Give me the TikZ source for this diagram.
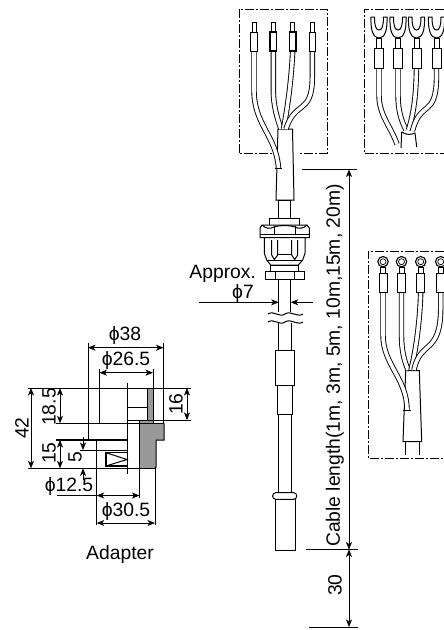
\documentclass[tikz,border=0pt]{standalone}
\usepackage{fontspec}
\usetikzlibrary{arrows.meta}
\setmainfont{Liberation Sans}
\tikzset{
  wire/.style={double=white,double distance=3.6pt,line width=0.9pt},
  frameline/.style={line width=0.9pt,dash pattern=on 9pt off 2pt on 2pt off 2pt},
  dimline/.style={line width=0.8pt,>={Stealth[length=7.5pt,width=6pt,inset=2pt]}},
  label/.style={inner sep=0pt,font=\fontsize{19.3}{19.3}\selectfont},
  vlabel/.style={label,rotate=90}
}
\begin{document}
\begin{tikzpicture}[x=1pt,y=-1pt,line width=1pt]
  \useasboundingbox (0,0) rectangle (444,630);
  % frames
  \draw[frameline] (239,153) -- (239,9) -- (327,9) -- (327,153) -- cycle;
  \draw[frameline] (444,9) -- (364,9) -- (364,153) -- (444,153);
  \draw[frameline] (444,251) -- (368,251) -- (368,458) -- (444,458);
  \fill[white] (272,150) rectangle (298,156);

  % top left tails
  \draw[fill=white] (278,129) -- (276,200) -- (294,200) -- (292.5,129) -- cycle;
  \draw[wire] (273.3,51) -- (273.3,90) .. controls (273.3,105) and (277,118) .. (281,129);
  \draw[wire] (292.7,51) .. controls (291,85) and (287,110) .. (283.5,129);
  \draw[wire] (312.3,51) -- (312.3,78) .. controls (312,115) and (295,100) .. (286,129);
  \draw[wire] (254,51) -- (254,90) .. controls (254,125) and (276,135) .. (278.5,168);
  \draw (274.8,168) -- (282.2,168);
  \foreach \x in {254,273.3,292.7,312.3}
    \draw[fill=white] (\x-2,22) rectangle (\x+2,32);
  \foreach \x in {254,312.3}
    \draw[fill=white] (\x-3.3,32) rectangle (\x+3.3,51);
  \foreach \x in {273.3,292.7}
    \draw[fill=white,line width=1.6pt] (\x-3.3,32) rectangle (\x+3.3,51);

  % top right tails
  \draw (401.7,132) -- (401,148);
  \draw (415,133) -- (416.7,147);
  \draw (401.7,132) .. controls (406,135) and (411,135) .. (415,133);
  \draw[wire] (398,68) -- (398,95) .. controls (398,110) and (401,120) .. (406,130);
  \draw[wire] (416.5,68) .. controls (416,95) and (414,112) .. (408.5,130);
  \draw[wire] (436.5,68) -- (436.5,78) .. controls (436,118) and (420,100) .. (412.5,131);
  \draw[wire] (379,68) -- (379,95) .. controls (379,115) and (390,125) .. (397,144);
  \foreach \x in {379,398,416.5,436.5} {
    \draw[fill=white] (\x-2.5,38) rectangle (\x+2.5,48);
    \draw[fill=white] (\x-4.5,48) rectangle (\x+4.5,68);
    \draw[fill=white] (\x-8,17) .. controls (\x-8.5,30) and (\x-6,38) .. (\x,38)
      .. controls (\x+6,38) and (\x+8.5,30) .. (\x+8,17)
      -- (\x+4.5,17) .. controls (\x+4.5,26) and (\x+3,30) .. (\x,30)
      .. controls (\x-3,30) and (\x-4.5,26) .. (\x-4.5,17) -- cycle;
  }

  % lower right tails
  \draw (405.7,441.7) -- (405.7,455);
  \draw (419.3,441.7) -- (419.3,455);
  \draw[fill=white] (405.7,370.7) -- (403,441.7) -- (421.7,441.7) -- (419.3,370.7) -- cycle;
  \draw[wire] (401.5,292) -- (401.5,335) .. controls (401.5,350) and (404,360) .. (408,370);
  \draw[wire] (420.7,292) .. controls (420,320) and (416,350) .. (411,370);
  \draw[wire] (440.7,292) -- (440.7,310) .. controls (440,355) and (420,340) .. (414,370);
  \draw[wire] (383,292) -- (383,335) .. controls (383,365) and (407,378) .. (407,410);
  \draw (403.2,410) -- (410.8,410);
  \foreach \x in {383,401.5,420.7,440.7} {
    \draw[fill=white] (\x-2.5,267) rectangle (\x+2.5,273);
    \draw[fill=white] (\x-4,273) rectangle (\x+4,292);
    \draw[fill=white,line width=1.1pt] (\x,261.7) circle (5.2);
    \draw[line width=0.7pt] (\x,261.7) circle (3);
  }

  % gland
  \draw[fill=white] (278.3,200) rectangle (290.7,218.3);
  \draw[fill=white] (269.3,218.3) rectangle (299.3,225);
  \draw[fill=white] (262,225) -- (307,225) -- (309.3,228) -- (309.3,237.7) -- (260,237.7) -- (260,228) -- cycle;
  \draw (260,234.3) -- (309.3,234.3);
  \draw (274,226) -- (274,234.3) (295,226) -- (295,234.3);
  \draw (262,225) .. controls (266,229) and (270,229) .. (274,227)
    .. controls (280,225) and (289,225) .. (295,227)
    .. controls (299,229) and (303,229) .. (307,225);
  \draw[fill=white] (264.3,237.7) -- (264.3,253.3) -- (266.7,260) -- (270.7,265) -- (298.3,265) -- (302.7,260) -- (305,253.3) -- (305,237.7) -- cycle;
  \draw (266.7,260) -- (302.7,260);
  \draw (271.7,240) -- (271.7,255) -- (274.3,259.5) -- (277.7,255) -- (277.7,240);
  \draw (291.7,240) -- (291.7,255) -- (294.7,259.5) -- (297.7,255) -- (297.7,240);
  \draw (277.7,254.3) -- (291.7,254.3);
  \draw[fill=white] (270.7,265) rectangle (298.3,271.7);
  \draw[fill=white] (265.7,271.7) rectangle (304.3,279);
  \draw (275,271.7) -- (275,279) (294.3,271.7) -- (294.3,279);

  % cable
  \draw (278.7,279) -- (278.7,312) (290.7,279) -- (290.7,312);
  \draw (268,314) .. controls (274,310) and (279,318) .. (285,314) .. controls (291,310) and (297,318) .. (303,314);
  \draw (268,322) .. controls (274,318) and (279,326) .. (285,322) .. controls (291,318) and (297,326) .. (303,322);
  \draw (278.7,323) -- (278.7,351) (291,323) -- (291,351);
  \draw (275.7,350.7) rectangle (294.3,385);
  \draw (277,385) rectangle (292.7,414);
  \draw (278.5,414) -- (278.5,493) (291.7,414) -- (291.7,493);
  \draw[fill=white,rounded corners=3pt] (272.7,492.7) rectangle (296.7,499.3);
  \draw (275.3,499.3) -- (275.3,550) -- (295,550) -- (295,499.3);

  % adapter
  \fill[gray!80] (147,388) -- (153,388) -- (153,423) -- (164,423) -- (164,440) -- (156,440) -- (156,467)
    -- (155,468.5) -- (139.5,468.5) -- (139.5,420) -- (147,420) -- cycle;
  \draw (28,388) -- (191,388);
  \draw (127,383) -- (127,474);
  \draw (147,388) -- (147,420);
  \draw (127,407) -- (147,407);
  \draw (127,420) -- (191,420);
  \draw (56,423.3) -- (164,423.3);
  \draw (88,343) -- (88,423.3) (163.5,343) -- (163.5,423.3);
  \draw (99.5,369) -- (99.5,423.3) (153,369) -- (153,423.3);
  \draw (88,423.3) -- (88,439) -- (127,439);
  \draw (164,423.3) -- (164,440) -- (156,440) -- (156,467) -- (155,468.3);
  \draw[line width=1.3pt] (56,440) -- (127,440);
  \draw (80,450) -- (127,450);
  \draw (96.7,439) -- (96.7,525);
  \draw (155,468.3) -- (155,525);
  \draw (139.5,420) -- (139.5,498);
  \draw (28,468.3) -- (155,468.3);
  \draw[line width=1.2pt] (127,452.7) -- (106,452.7) -- (106,466) -- (127,466);
  \draw (106,452.7) -- (127,459.5) -- (106,466);

  % dimensions
  \draw[dimline,<->] (88,347.7) -- (163.5,347.7);
  \draw[dimline,<->] (99.5,372.7) -- (153,372.7);
  \draw[dimline,<->] (31,388) -- (31,468.3);
  \draw[dimline,<->] (60,388) -- (60,423.3);
  \draw[dimline,<->] (60,440) -- (60,468.3);
  \draw[dimline,->] (83,437) -- (83,450);
  \draw[dimline,->] (83,480) -- (83,468.3);
  \draw[dimline,<->] (187,388) -- (187,420);
  \draw[dimline] (57,495.5) -- (96.7,495.5);
  \draw[dimline,<->] (96.7,495.5) -- (139.5,495.5);
  \draw[dimline,<->] (96.7,523) -- (155,523);
  \draw[dimline,->] (199,302.3) -- (278.7,302.3);
  \draw[dimline,->] (312.7,302.3) -- (290.7,302.3);
  \draw (301.7,169.5) -- (357,169.5);
  \draw (306,549.5) -- (357.7,549.5);
  \draw (309,627) -- (358,627);
  \draw[dimline,<->] (349,169.5) -- (349,549.5);
  \draw[dimline,<->] (349,549.5) -- (349,627);

  % texts
  \node[label] (dia38) at (125,336) {ϕ38};
  \node[label] (dia265) at (126,361) {ϕ26.5};
  \node[vlabel] (len42) at (22,428) {42};
  \node[vlabel] (len185) at (49,407) {18.5};
  \node[vlabel] (len15) at (49,453) {15};
  \node[vlabel] (len5) at (75,457) {5};
  \node[vlabel] (len16) at (176,404) {16};
  \node[label] (dia125) at (69,487) {ϕ12.5};
  \node[label] (dia305) at (126,512) {ϕ30.5};
  \node[label] (adapter) at (120,555) {Adapter};
  \node[label] (approx) at (222.7,274) {Approx.};
  \node[label] (dia7) at (243,294) {ϕ7};
  \node[vlabel] (cablelen) at (335,365.5) {Cable length(1m, 3m, 5m, 10m,15m, 20m)};
  \node[vlabel] (len30) at (335,585) {30};
\end{tikzpicture}
\end{document}
